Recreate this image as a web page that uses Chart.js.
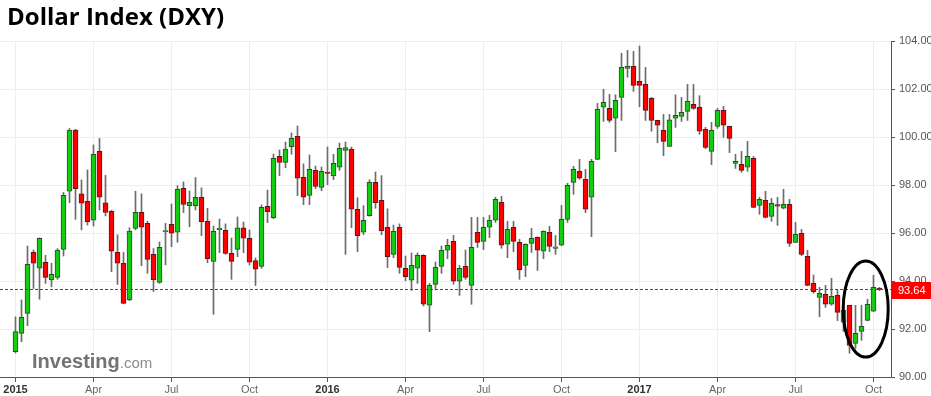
<!DOCTYPE html>
<html lang="en">
<head>
  <meta charset="UTF-8">
  <title>Dollar Index (DXY)</title>
  <style>
    html, body { margin: 0; padding: 0; background: #fff; }
    canvas { display: block; }
  </style>
  <script src="https://cdn.jsdelivr.net/npm/chart.js"></script>
</head>
<body>
  <canvas id="dxyChart" width="931" height="396"></canvas>
  <script>
    // weekly candles, first week of Jan 2015 to second week of Oct 2017
    const opens = [
      91.06, 91.82, 92.65, 95.19, 94.53, 94.78, 94.04, 94.15, 95.32, 97.74,
      100.29, 97.63, 97.32, 96.53, 99.40, 97.26, 96.90, 95.19, 94.74, 93.21,
      96.19, 96.86, 96.40, 95.11, 93.94, 96.05, 96.36, 96.03, 97.86, 97.14,
      97.14, 97.49, 96.49, 94.82, 96.14, 96.11, 95.15, 95.32, 96.22, 95.78,
      94.85, 94.61, 97.11, 96.64, 99.19, 98.94, 99.60, 100.03, 98.32, 97.57,
      98.61, 97.90, 98.54, 98.38, 98.74, 99.44, 99.50, 96.99, 96.03, 96.72,
      98.11, 97.36, 96.24, 95.11, 96.24, 94.53, 94.03, 94.53, 95.07, 92.99,
      93.86, 94.61, 95.28, 95.65, 93.99, 94.61, 93.82, 96.03, 95.65, 96.24,
      96.53, 97.28, 95.53, 96.24, 95.61, 94.65, 95.57, 95.82, 95.24, 96.03,
      95.36, 95.49, 96.57, 98.11, 98.57, 98.24, 97.49, 99.07, 101.24, 101.19,
      100.78, 101.65, 102.86, 102.94, 102.32, 102.19, 101.61, 100.69, 100.28, 99.61,
      100.78, 100.86, 101.07, 101.36, 101.24, 100.32, 99.40, 100.44, 101.11, 100.44,
      98.90, 98.86, 98.74, 99.11, 97.15, 97.36, 96.69, 97.18, 97.03, 97.19,
      95.61, 95.99, 95.03, 93.90, 93.32, 93.44, 93.03, 93.40, 92.28, 92.99,
      91.40, 91.90, 92.36, 92.74, 93.69
    ];
    const highs = [
      92.51, 93.21, 95.46, 95.29, 95.80, 95.07, 94.74, 95.35, 97.69, 100.35,
      100.32, 98.21, 98.63, 99.67, 99.94, 98.40, 96.95, 95.92, 95.19, 96.22,
      97.74, 97.63, 96.49, 95.35, 95.63, 96.40, 97.21, 97.97, 98.13, 97.75,
      98.31, 97.88, 97.03, 96.29, 96.58, 96.38, 95.79, 96.67, 96.46, 96.13,
      94.96, 97.17, 97.79, 99.29, 99.46, 99.79, 100.17, 100.46, 98.88, 99.25,
      98.79, 98.75, 99.58, 99.28, 99.75, 99.79, 99.58, 97.47, 97.14, 98.22,
      98.54, 98.39, 97.01, 96.33, 96.38, 95.04, 95.17, 95.17, 95.10, 93.90,
      94.79, 95.46, 95.74, 95.90, 94.65, 95.29, 96.65, 96.65, 96.65, 96.74,
      97.49, 97.53, 96.49, 96.49, 95.74, 95.55, 96.19, 95.84, 96.09, 96.28,
      95.90, 97.15, 98.07, 98.78, 99.07, 98.65, 99.07, 101.40, 101.99, 101.78,
      101.76, 103.49, 103.61, 103.57, 103.79, 102.90, 101.65, 100.70, 100.94, 100.94,
      101.76, 101.65, 102.19, 102.19, 101.72, 100.40, 100.61, 101.19, 101.28, 100.45,
      99.28, 99.40, 99.82, 99.19, 97.49, 97.74, 97.44, 97.49, 97.82, 97.40,
      96.44, 96.15, 95.28, 94.25, 93.74, 93.82, 94.11, 93.61, 92.86, 92.99,
      92.99, 92.99, 93.24, 94.24, 93.74
    ];
    const lows = [
      91.00, 91.47, 92.14, 93.69, 93.24, 93.90, 93.76, 94.07, 95.04, 97.26,
      96.57, 96.13, 96.33, 96.29, 96.96, 96.71, 94.39, 93.86, 93.05, 93.18,
      96.13, 94.64, 94.32, 93.56, 93.90, 94.67, 95.43, 95.61, 96.85, 96.26,
      96.96, 95.89, 94.76, 92.61, 95.18, 95.11, 94.07, 95.01, 95.18, 94.67,
      93.81, 94.53, 96.43, 96.60, 98.39, 98.72, 99.28, 97.56, 97.18, 97.18,
      97.85, 97.76, 98.01, 98.22, 98.61, 95.11, 96.22, 95.22, 95.93, 96.70,
      97.03, 95.93, 94.56, 94.97, 94.32, 94.01, 93.61, 93.90, 92.96, 91.89,
      93.63, 94.32, 94.93, 93.86, 93.40, 94.07, 93.03, 95.40, 95.31, 95.81,
      96.44, 95.36, 94.97, 95.22, 94.07, 94.18, 95.19, 94.44, 94.93, 95.22,
      95.11, 95.47, 96.44, 97.61, 98.24, 96.85, 95.85, 99.05, 100.65, 100.61,
      99.39, 100.69, 102.49, 101.90, 101.26, 100.69, 100.24, 99.76, 99.22, 99.60,
      100.40, 100.65, 100.69, 101.15, 100.11, 99.51, 98.85, 100.36, 99.99, 99.35,
      98.69, 98.53, 98.57, 97.05, 96.78, 96.63, 96.49, 96.32, 97.00, 95.44,
      95.60, 95.06, 93.80, 93.49, 92.51, 92.90, 92.99, 92.35, 91.90, 90.99,
      91.19, 91.53, 92.34, 92.72, 93.60
    ];
    const closes = [
      91.89, 92.49, 94.69, 94.74, 95.78, 94.15, 94.28, 95.29, 97.57, 100.29,
      97.85, 97.24, 96.47, 99.28, 97.49, 96.86, 95.24, 94.74, 93.07, 96.08,
      96.86, 96.24, 94.90, 94.04, 95.40, 96.10, 95.99, 97.82, 97.19, 97.28,
      97.49, 96.47, 94.93, 96.07, 96.21, 95.15, 94.82, 96.22, 95.78, 94.78,
      94.49, 97.07, 96.89, 99.11, 98.94, 99.50, 99.94, 98.28, 97.49, 98.65,
      97.94, 98.57, 98.48, 98.90, 99.53, 99.56, 96.99, 95.89, 96.53, 98.11,
      97.26, 96.10, 95.01, 96.07, 94.57, 94.18, 94.65, 95.07, 93.03, 93.82,
      94.57, 95.28, 95.49, 93.99, 94.53, 94.15, 95.40, 95.61, 96.24, 96.53,
      97.40, 95.49, 96.15, 95.65, 94.46, 95.53, 95.78, 95.28, 96.07, 95.44,
      95.42, 96.57, 97.99, 98.65, 98.28, 96.99, 98.99, 101.15, 101.44, 100.69,
      101.53, 102.90, 102.94, 102.15, 102.15, 101.11, 100.69, 100.49, 99.82, 100.72,
      100.90, 101.03, 101.49, 101.19, 100.24, 99.57, 100.28, 101.11, 100.49, 99.94,
      98.99, 98.61, 99.19, 97.07, 97.40, 96.65, 97.24, 97.12, 97.19, 95.57,
      95.94, 95.11, 93.82, 93.56, 93.49, 93.03, 93.36, 92.69, 92.78, 91.32,
      91.82, 92.11, 93.03, 93.74, 93.64
    ];

    // x axis: candle index of the first week of each quarter
    const tickIndex = [0, 13, 26, 39, 52, 65, 78, 91, 104, 117, 130, 143];
    const tickLabels = ['2015', 'Apr', 'Jul', 'Oct', '2016', 'Apr', 'Jul', 'Oct', '2017', 'Apr', 'Jul', 'Oct'];
    const yearLabels = ['2015', '2016', '2017'];
    const yTicks = [90, 92, 94, 96, 98, 100, 102, 104];

    // the circled area at the right end
    const circleCenter = { x: 141.7, y: 92.83 };
    const circleRadius = { x: 3.75, y: 2.0 };

    const FONT = "'Liberation Sans', Arial, sans-serif";
    const GREEN = '#14cc14', GREEN_EDGE = '#245224';
    const RED = '#ff0000', RED_EDGE = '#5e1515';

    const isUp = i => closes[i] >= opens[i];
    const labelFor = v => tickLabels[tickIndex.indexOf(v)];

    // 6 px per week over a 891 px plot, first candle centred at 15.5 px
    const xMin = -15.5 / 6;
    const xMax = xMin + 891 / 6;

    const extras = {
      id: 'extras',
      beforeDatasetsDraw(chart) {
        const ctx = chart.ctx;
        ctx.save();
        ctx.textBaseline = 'alphabetic';
        ctx.fillStyle = '#727272';
        ctx.font = 'bold 20px ' + FONT;
        ctx.fillText('Investing', 32, 368);
        const w = ctx.measureText('Investing').width;
        ctx.fillStyle = '#8a8a8a';
        ctx.font = '15px ' + FONT;
        ctx.fillText('.com', 32 + w, 368);
        ctx.restore();
      },
      afterDatasetsDraw(chart) {
        const ctx = chart.ctx;
        const xs = chart.scales.x, ys = chart.scales.y;
        const area = chart.chartArea;
        const last = closes[closes.length - 1];
        const py = Math.floor(ys.getPixelForValue(last)) + 0.5;

        ctx.save();
        ctx.strokeStyle = '#ff0000';
        ctx.lineWidth = 1;
        ctx.setLineDash([3, 2]);
        ctx.beginPath();
        ctx.moveTo(area.left, py);
        ctx.lineTo(area.right, py);
        ctx.stroke();
        ctx.setLineDash([]);

        const cx = xs.getPixelForValue(circleCenter.x);
        const cy = ys.getPixelForValue(circleCenter.y);
        const rx = xs.getPixelForValue(circleCenter.x + circleRadius.x) - cx;
        const ry = cy - ys.getPixelForValue(circleCenter.y + circleRadius.y);
        ctx.strokeStyle = '#000';
        ctx.lineWidth = 3;
        ctx.beginPath();
        ctx.ellipse(cx, cy, rx, ry, 0, 0, Math.PI * 2);
        ctx.stroke();
        ctx.restore();
      },
      afterDraw(chart) {
        const ctx = chart.ctx;
        const ys = chart.scales.y;
        const area = chart.chartArea;
        const last = closes[closes.length - 1];
        const py = ys.getPixelForValue(last);

        ctx.save();
        ctx.fillStyle = '#ff0000';
        ctx.fillRect(area.right, Math.round(py) - 8, chart.width - area.right, 17);
        ctx.fillStyle = '#fff';
        ctx.font = '11px ' + FONT;
        ctx.textBaseline = 'middle';
        ctx.fillText(last.toFixed(2), area.right + 7, Math.round(py) + 0.5);

        ctx.fillStyle = '#000';
        ctx.font = "bold 24px 'Open Sans', sans-serif";
        ctx.textBaseline = 'alphabetic';
        ctx.fillText('Dollar Index (DXY)', 7, 25);
        ctx.restore();
      }
    };

    new Chart(document.getElementById('dxyChart'), {
      type: 'bar',
      data: {
        datasets: [
          {
            label: 'Range',
            data: lows.map((l, i) => ({ x: i, y: [l, highs[i]] })),
            backgroundColor: '#6b6b6b',
            barThickness: 1,
            grouped: false,
            order: 2
          },
          {
            label: 'DXY',
            data: opens.map((o, i) => ({ x: i, y: [Math.min(o, closes[i]), Math.max(o, closes[i])] })),
            backgroundColor: ctx => isUp(ctx.dataIndex) ? GREEN : RED,
            borderColor: ctx => isUp(ctx.dataIndex) ? GREEN_EDGE : RED_EDGE,
            borderWidth: 1,
            borderSkipped: false,
            barThickness: 5,
            grouped: false,
            order: 1
          }
        ]
      },
      options: {
        responsive: false,
        animation: false,
        layout: { padding: { top: 41, left: 0, right: 0, bottom: 0 } },
        plugins: {
          legend: { display: false },
          tooltip: { enabled: false }
        },
        scales: {
          x: {
            type: 'linear',
            min: xMin,
            max: xMax,
            offset: false,
            afterBuildTicks: s => { s.ticks = tickIndex.map(v => ({ value: v })); },
            afterFit: s => { s.height = 19; },
            ticks: {
              autoSkip: false,
              maxRotation: 0,
              padding: 1,
              callback: v => labelFor(v),
              color: c => (c.tick && yearLabels.includes(labelFor(c.tick.value))) ? '#333' : '#666',
              font: c => ({
                family: FONT,
                size: 11,
                weight: (c.tick && yearLabels.includes(labelFor(c.tick.value))) ? 'bold' : 'normal'
              })
            },
            grid: { color: '#eeeeee', offset: false, tickLength: 5, tickColor: '#555' },
            border: { color: '#555' }
          },
          y: {
            position: 'right',
            min: 90,
            max: 104,
            afterBuildTicks: s => { s.ticks = yTicks.map(v => ({ value: v })); },
            afterFit: s => { s.width = 40; },
            ticks: {
              padding: 4,
              color: '#555',
              font: { family: FONT, size: 11 },
              callback: v => v.toFixed(2)
            },
            grid: { color: '#eeeeee', tickLength: 4, tickColor: '#555' },
            border: { color: '#555' }
          }
        }
      },
      plugins: [extras]
    });
  </script>
</body>
</html>
